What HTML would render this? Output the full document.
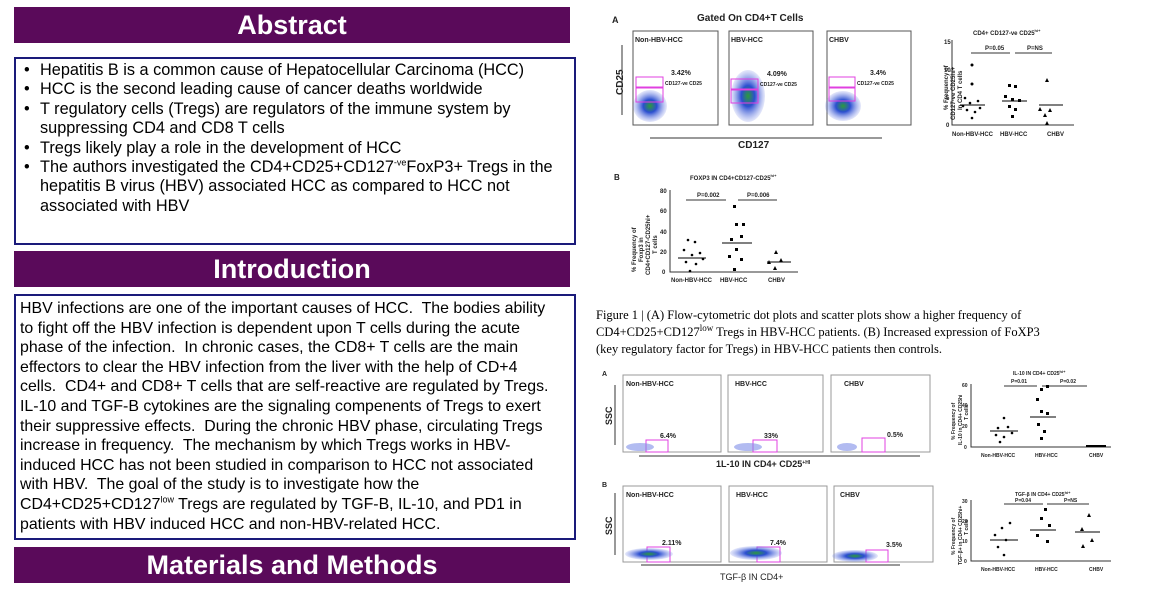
<!DOCTYPE html>
<html><head><meta charset="utf-8"><style>
body{margin:0;width:1154px;height:590px;background:#fff;position:relative;overflow:hidden;font-family:"Liberation Sans",sans-serif}
.bar{position:absolute;left:14px;width:556px;background:#5a0a5a;color:#fff;font-weight:bold;font-size:27px;text-align:center}
.box{position:absolute;left:14px;width:550px;border:2px solid #1a1a7a;font-size:15.9px;line-height:19.6px;color:#000;white-space:nowrap}
ul{margin:0;padding:0 0 0 20px}
li{list-style:none;position:relative}
li:before{content:"•";position:absolute;left:-16px}
.cap{position:absolute;left:596px;top:307px;width:520px;font-family:"Liberation Serif",serif;font-size:12.5px;line-height:17px;white-space:nowrap}
sup{font-size:9px;line-height:0}
</style></head><body>
<div class="bar" style="top:7px;height:36px;line-height:36px">Abstract</div>
<div class="box" style="top:57px;height:180px;padding:2px 4px;font-size:16.3px;line-height:19.4px">
<ul>
<li>Hepatitis B is a common cause of Hepatocellular Carcinoma (HCC)</li>
<li>HCC is the second leading cause of cancer deaths worldwide</li>
<li>T regulatory cells (Tregs) are regulators of the immune system by<br>suppressing CD4 and CD8 T cells</li>
<li>Tregs likely play a role in the development of HCC</li>
<li>The authors investigated the CD4+CD25+CD127<sup>-ve</sup>FoxP3+ Tregs in the<br>hepatitis B virus (HBV) associated HCC as compared to HCC not<br>associated with HBV</li>
</ul></div>
<div class="bar" style="top:251px;height:36px;line-height:36px">Introduction</div>
<div class="box" style="top:294px;height:236px;padding:3px 4px">HBV infections are one of the important causes of HCC.&nbsp; The bodies ability<br>to fight off the HBV infection is dependent upon T cells during the acute<br>phase of the infection.&nbsp; In chronic cases, the CD8+ T cells are the main<br>effectors to clear the HBV infection from the liver with the help of CD+4<br>cells.&nbsp; CD4+ and CD8+ T cells that are self-reactive are regulated by Tregs.<br>IL-10 and TGF-B cytokines are the signaling compenents of Tregs to exert<br>their suppressive effects.&nbsp; During the chronic HBV phase, circulating Tregs<br>increase in frequency.&nbsp; The mechanism by which Tregs works in HBV-<br>induced HCC has not been studied in comparison to HCC not associated<br>with HBV.&nbsp; The goal of the study is to investigate how the<br>CD4+CD25+CD127<sup>low</sup> Tregs are regulated by TGF-B, IL-10, and PD1 in<br>patients with HBV induced HCC and non-HBV-related HCC.</div>
<div class="bar" style="top:547px;height:36px;line-height:36px">Materials and Methods</div>
<div class="cap">Figure 1 | (A) Flow-cytometric dot plots and scatter plots show a higher frequency of<br>CD4+CD25+CD127<sup>low</sup> Tregs in HBV-HCC patients. (B) Increased expression of FoXP3<br>(key regulatory factor for Tregs) in HBV-HCC patients then controls.</div>
<svg width="1154" height="590" style="position:absolute;left:0;top:0" font-family="Liberation Sans,sans-serif">
<defs><radialGradient id="g"><stop offset="0" stop-color="#2c9a3a"/><stop offset=".4" stop-color="#2b4fd0"/><stop offset="1" stop-color="#7f8fe8" stop-opacity=".2"/></radialGradient></defs>
<g font-weight="bold" fill="#222">
<text x="612" y="23" font-size="9">A</text>
<text x="697" y="21" font-size="10">Gated On CD4+T Cells</text>
<g fill="none" stroke="#555" stroke-width="1">
<rect x="633" y="31" width="85" height="94"/><rect x="729" y="31" width="84" height="94"/><rect x="827" y="31" width="84" height="94"/>
</g>
<ellipse cx="650" cy="106" rx="17" ry="16" fill="url(#g)"/>
<ellipse cx="748" cy="96" rx="17" ry="26" fill="url(#g)"/>
<ellipse cx="843" cy="106" rx="18" ry="15" fill="url(#g)"/>
<g fill="none" stroke="#e040e0" stroke-width="1"><rect x="636" y="77" width="27" height="10"/><rect x="636" y="88" width="27" height="14"/><rect x="731" y="79" width="27" height="10"/><rect x="731" y="90" width="27" height="13"/><rect x="829" y="77" width="26" height="10"/><rect x="829" y="88" width="26" height="13"/></g>
<text x="635" y="42" font-size="7">Non-HBV-HCC</text><text x="731" y="42" font-size="7">HBV-HCC</text><text x="829" y="42" font-size="7">CHBV</text>
<text x="671" y="75" font-size="7">3.42%</text><text x="767" y="76" font-size="7">4.09%</text><text x="870" y="75" font-size="7">3.4%</text>
<text x="665" y="85" font-size="5">CD127-ve CD25</text><text x="760" y="86" font-size="5">CD127-ve CD25</text><text x="857" y="85" font-size="5">CD127-ve CD25</text>
<text transform="translate(623,95) rotate(-90)" font-size="10">CD25</text>
<line x1="622" y1="115" x2="622" y2="45" stroke="#333"/>
<line x1="650" y1="138" x2="882" y2="138" stroke="#333"/>
<text x="738" y="148" font-size="10">CD127</text>
<text x="973" y="35" font-size="6">CD4+ CD127-ve CD25<tspan font-size="4" dy="-3">hi+</tspan></text>
<path d="M952 40V125H1074" stroke="#333" fill="none"/>
<text x="944" y="44" font-size="6">15</text><text x="944" y="72" font-size="6">10</text><text x="946" y="100" font-size="6">5</text><text x="946" y="127" font-size="6">0</text>
<path d="M971 53H1010M1015 53H1052" stroke="#333"/>
<text x="985" y="50" font-size="6">P=0.05</text><text x="1027" y="50" font-size="6">P=NS</text>
<text transform="translate(948,110) rotate(-90)" font-size="6">% Frequency of</text>
<text transform="translate(955,120) rotate(-90)" font-size="6">CD127-ve CD25hi+</text>
<text transform="translate(962,110) rotate(-90)" font-size="6">In CD4 T cells</text>
<text x="952" y="136" font-size="6">Non-HBV-HCC</text><text x="1000" y="136" font-size="6">HBV-HCC</text><text x="1047" y="136" font-size="6">CHBV</text>
<g fill="#000"><circle cx="972" cy="65" r="1.5"/><circle cx="972" cy="84" r="1.5"/><circle cx="965" cy="98" r="1.3"/><circle cx="970" cy="103" r="1.3"/><circle cx="978" cy="101" r="1.3"/><circle cx="967" cy="110" r="1.3"/><circle cx="975" cy="112" r="1.3"/><circle cx="972" cy="118" r="1.3"/><circle cx="963" cy="106" r="1.3"/><circle cx="980" cy="108" r="1.3"/>
<rect x="1008" y="84" width="3" height="3"/><rect x="1014" y="85" width="3" height="3"/><rect x="1004" y="95" width="3" height="3"/><rect x="1011" y="98" width="3" height="3"/><rect x="1018" y="99" width="3" height="3"/><rect x="1008" y="105" width="3" height="3"/><rect x="1014" y="108" width="3" height="3"/><rect x="1011" y="115" width="3" height="3"/>
<path d="M1047 78l2 4h-4zM1040 107l2 4h-4zM1050 108l2 4h-4zM1045 113l2 4h-4zM1047 121l2 4h-4z"/></g>
<path d="M960 105H985M1002 101H1027M1039 105H1063" stroke="#000"/>
<text x="614" y="180" font-size="8">B</text>
<text x="690" y="180" font-size="6">FOXP3 IN CD4+CD127-CD25<tspan font-size="4" dy="-3">hi+</tspan></text>
<path d="M670 190V272H798" stroke="#333" fill="none"/>
<text x="660" y="193" font-size="6">80</text><text x="660" y="213" font-size="6">60</text><text x="660" y="234" font-size="6">40</text><text x="660" y="254" font-size="6">20</text><text x="662" y="274" font-size="6">0</text>
<path d="M686 200H726M738 200H777" stroke="#333"/>
<text x="697" y="197" font-size="6">P=0.002</text><text x="747" y="197" font-size="6">P=0.006</text>
<text transform="translate(636,272) rotate(-90)" font-size="6">% Frequency of</text>
<text transform="translate(643,262) rotate(-90)" font-size="6">Foxp3 in</text>
<text transform="translate(650,275) rotate(-90)" font-size="6">CD4+CD127-CD25hi+</text>
<text transform="translate(657,254) rotate(-90)" font-size="6">T cells</text>
<text x="671" y="282" font-size="6">Non-HBV-HCC</text><text x="720" y="282" font-size="6">HBV-HCC</text><text x="768" y="282" font-size="6">CHBV</text>
<g fill="#000"><circle cx="688" cy="240" r="1.3"/><circle cx="695" cy="242" r="1.3"/><circle cx="684" cy="250" r="1.3"/><circle cx="692" cy="255" r="1.3"/><circle cx="700" cy="253" r="1.3"/><circle cx="686" cy="262" r="1.3"/><circle cx="696" cy="264" r="1.3"/><circle cx="690" cy="271" r="1.3"/><circle cx="703" cy="259" r="1.3"/>
<rect x="733" y="205" width="3" height="3"/><rect x="735" y="223" width="3" height="3"/><rect x="742" y="223" width="3" height="3"/><rect x="730" y="238" width="3" height="3"/><rect x="740" y="235" width="3" height="3"/><rect x="735" y="248" width="3" height="3"/><rect x="728" y="255" width="3" height="3"/><rect x="740" y="258" width="3" height="3"/><rect x="733" y="268" width="3" height="3"/>
<path d="M776 250l2 4h-4zM769 260l2 4h-4zM781 258l2 4h-4zM775 266l2 4h-4z"/></g>
<path d="M678 258H706M722 243H752M767 262H791" stroke="#000"/>
<text x="602" y="376" font-size="7">A</text>
<g fill="none" stroke="#999"><rect x="623" y="375" width="98" height="77"/><rect x="728" y="375" width="95" height="77"/><rect x="831" y="375" width="99" height="77"/>
<rect x="623" y="486" width="98" height="76"/><rect x="729" y="486" width="98" height="76"/><rect x="834" y="486" width="99" height="76"/></g>
<g fill="none" stroke="#e040e0"><rect x="646" y="440" width="22" height="12"/><rect x="753" y="440" width="24" height="12"/><rect x="862" y="438" width="23" height="14"/>
<rect x="647" y="547" width="23" height="15"/><rect x="757" y="547" width="23" height="15"/><rect x="866" y="550" width="22" height="12"/></g>
<g fill="#7f8fe8" opacity=".6"><ellipse cx="640" cy="447" rx="14" ry="4"/><ellipse cx="748" cy="447" rx="14" ry="4"/><ellipse cx="847" cy="447" rx="10" ry="4"/></g>
<ellipse cx="649" cy="554" rx="24" ry="6" fill="url(#g)"/><ellipse cx="756" cy="553" rx="26" ry="7" fill="url(#g)"/><ellipse cx="855" cy="556" rx="23" ry="6" fill="url(#g)"/>
<text x="626" y="386" font-size="7">Non-HBV-HCC</text><text x="735" y="386" font-size="7">HBV-HCC</text><text x="844" y="386" font-size="7">CHBV</text>
<text x="660" y="438" font-size="7">6.4%</text><text x="764" y="438" font-size="7">33%</text><text x="887" y="437" font-size="7">0.5%</text>
<text x="626" y="497" font-size="7">Non-HBV-HCC</text><text x="736" y="497" font-size="7">HBV-HCC</text><text x="840" y="497" font-size="7">CHBV</text>
<text x="662" y="545" font-size="7">2.11%</text><text x="770" y="545" font-size="7">7.4%</text><text x="886" y="547" font-size="7">3.5%</text>
<text x="602" y="487" font-size="7">B</text>
<text transform="translate(612,425) rotate(-90)" font-size="9">SSC</text><text transform="translate(612,535) rotate(-90)" font-size="9">SSC</text>
<line x1="615" y1="445" x2="615" y2="385" stroke="#333"/><line x1="615" y1="555" x2="615" y2="493" stroke="#333"/>
<line x1="639" y1="456" x2="920" y2="456" stroke="#333"/><line x1="641" y1="565" x2="900" y2="565" stroke="#333"/>
<text x="716" y="467" font-size="9">1L-10 IN CD4+ CD25<tspan font-size="5" dy="-3">+HI</tspan></text>
<text x="720" y="580" font-size="9" font-weight="normal">TGF-β IN CD4+</text>
<text x="1013" y="375" font-size="5">IL-10 IN CD4+ CD25<tspan font-size="4" dy="-2">hi+</tspan></text>
<path d="M971 384V447H1111" stroke="#333" fill="none"/>
<text x="962" y="387" font-size="5">60</text><text x="962" y="407" font-size="5">40</text><text x="962" y="428" font-size="5">20</text><text x="964" y="449" font-size="5">0</text>
<path d="M1004 386H1037M1042 386H1087" stroke="#333"/>
<text x="1011" y="383" font-size="5">P=0.01</text><text x="1060" y="383" font-size="5">P=0.02</text>
<text transform="translate(955,440) rotate(-90)" font-size="5">% Frequency of</text>
<text transform="translate(962,445) rotate(-90)" font-size="5">IL-10 in CD4+ CD25hi</text>
<text transform="translate(968,420) rotate(-90)" font-size="5">T cells</text>
<text x="981" y="457" font-size="5">Non-HBV-HCC</text><text x="1035" y="457" font-size="5">HBV-HCC</text><text x="1089" y="457" font-size="5">CHBV</text>
<g fill="#000"><circle cx="1004" cy="418" r="1.3"/><circle cx="998" cy="428" r="1.3"/><circle cx="1008" cy="427" r="1.3"/><circle cx="996" cy="435" r="1.3"/><circle cx="1004" cy="437" r="1.3"/><circle cx="1012" cy="433" r="1.3"/><circle cx="1000" cy="442" r="1.3"/>
<rect x="1040" y="388" width="3" height="3"/><rect x="1046" y="385" width="3" height="3"/><rect x="1036" y="398" width="3" height="3"/><rect x="1040" y="410" width="3" height="3"/><rect x="1046" y="412" width="3" height="3"/><rect x="1037" y="423" width="3" height="3"/><rect x="1043" y="430" width="3" height="3"/><rect x="1040" y="437" width="3" height="3"/>
<rect x="1086" y="445" width="20" height="2"/></g>
<path d="M990 431H1018M1030 417H1056" stroke="#000"/>
<text x="1015" y="496" font-size="5">TGF-β IN CD4+ CD25<tspan font-size="4" dy="-2">hi+</tspan></text>
<path d="M971 500V561H1111" stroke="#333" fill="none"/>
<text x="962" y="503" font-size="5">30</text><text x="962" y="523" font-size="5">20</text><text x="962" y="543" font-size="5">10</text><text x="964" y="563" font-size="5">0</text>
<path d="M1004 504H1043M1047 504H1089" stroke="#333"/>
<text x="1015" y="502" font-size="5">P=0.04</text><text x="1064" y="502" font-size="5">P=NS</text>
<text transform="translate(955,555) rotate(-90)" font-size="5">% Frequency of</text>
<text transform="translate(962,565) rotate(-90)" font-size="5">TGF-β+ in CD4+ CD25hi+</text>
<text transform="translate(968,535) rotate(-90)" font-size="5">T cells</text>
<text x="981" y="571" font-size="5">Non-HBV-HCC</text><text x="1035" y="571" font-size="5">HBV-HCC</text><text x="1089" y="571" font-size="5">CHBV</text>
<g fill="#000"><circle cx="1010" cy="523" r="1.3"/><circle cx="1002" cy="528" r="1.3"/><circle cx="995" cy="535" r="1.3"/><circle cx="1006" cy="540" r="1.3"/><circle cx="998" cy="547" r="1.3"/><circle cx="1004" cy="555" r="1.3"/>
<rect x="1044" y="508" width="3" height="3"/><rect x="1040" y="517" width="3" height="3"/><rect x="1048" y="524" width="3" height="3"/><rect x="1036" y="534" width="3" height="3"/><rect x="1046" y="540" width="3" height="3"/>
<path d="M1089 513l2 4h-4zM1082 527l2 4h-4zM1092 538l2 4h-4zM1083 544l2 4h-4z"/></g>
<path d="M990 540H1018M1030 530H1056M1075 532H1100" stroke="#000"/>
</g>
</svg>
</body></html>
